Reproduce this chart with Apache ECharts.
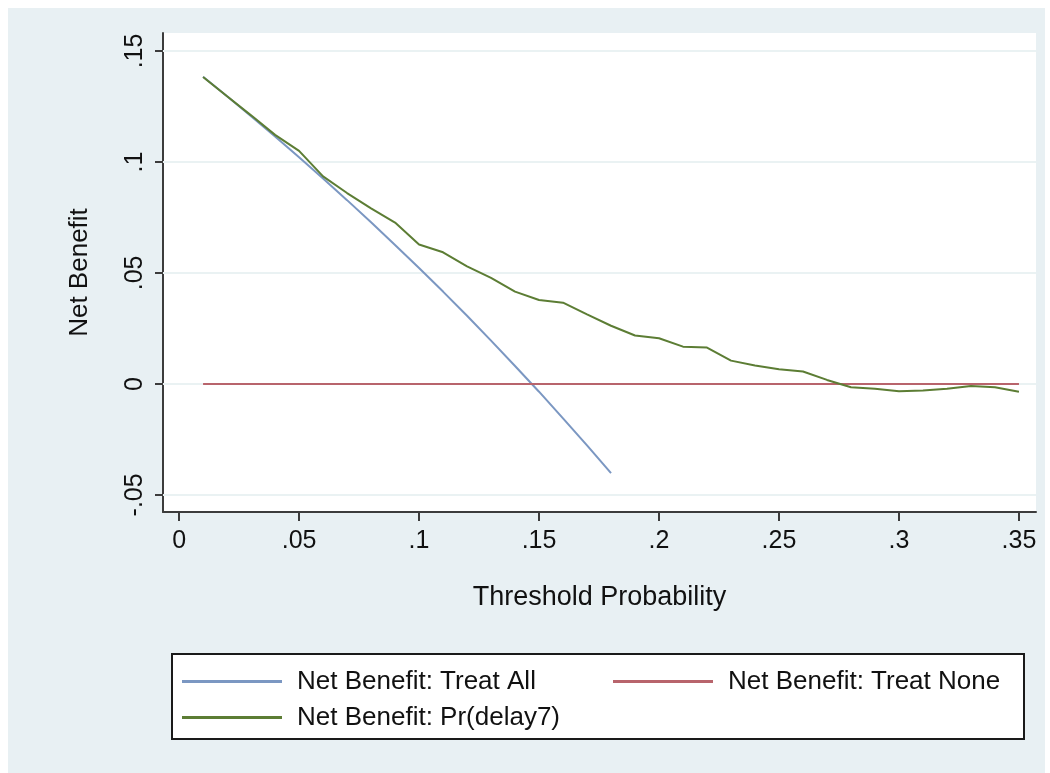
<!DOCTYPE html>
<html>
<head>
<meta charset="utf-8">
<title>Decision curve: Net Benefit</title>
<script src="https://cdn.jsdelivr.net/npm/echarts@6/dist/echarts.min.js"></script>
<style>
  html, body { margin: 0; padding: 0; background: #ffffff; }
  #chart { width: 1050px; height: 773px; }
</style>
</head>
<body>
<div id="chart"></div>
<script>
// Threshold probabilities (x) for each curve
const thresholdsAll = [0.01, 0.02, 0.03, 0.04, 0.05, 0.06, 0.07, 0.08, 0.09, 0.10,
  0.11, 0.12, 0.13, 0.14, 0.15, 0.16, 0.17, 0.18];
const thresholdsModel = [0.01, 0.02, 0.03, 0.04, 0.05, 0.06, 0.07, 0.08, 0.09, 0.10,
  0.11, 0.12, 0.13, 0.14, 0.15, 0.16, 0.17, 0.18, 0.19, 0.20,
  0.21, 0.22, 0.23, 0.24, 0.25, 0.26, 0.27, 0.28, 0.29, 0.30,
  0.31, 0.32, 0.33, 0.34, 0.35];

// Net benefit values
const netTreatAll = [0.1384, 0.1296, 0.1206, 0.1115, 0.1021, 0.0926, 0.0828, 0.0728, 0.0626, 0.0522,
  0.0416, 0.0307, 0.0195, 0.0081, -0.0035, -0.0155, -0.0277, -0.0402];
const netTreatNone = [0, 0, 0, 0, 0, 0, 0, 0, 0, 0,
  0, 0, 0, 0, 0, 0, 0, 0, 0, 0,
  0, 0, 0, 0, 0, 0, 0, 0, 0, 0,
  0, 0, 0, 0, 0];
const netDelay7 = [0.1383, 0.1296, 0.1210, 0.1122, 0.1050, 0.0935, 0.0860, 0.0791, 0.0727, 0.0628,
  0.0593, 0.0530, 0.0478, 0.0416, 0.0378, 0.0366, 0.0313, 0.0262, 0.0218, 0.0206,
  0.0168, 0.0164, 0.0105, 0.0083, 0.0066, 0.0056, 0.0018, -0.0015, -0.0022, -0.0033,
  -0.0030, -0.0022, -0.0009, -0.0015, -0.0035];

// Axis ticks and their printed labels
const xTickValues = [0, 0.05, 0.10, 0.15, 0.20, 0.25, 0.30, 0.35];
const xTickLabels = ['0', '.05', '.1', '.15', '.2', '.25', '.3', '.35'];
const yTickValues = [-0.05, 0, 0.05, 0.10, 0.15];
const yTickLabels = ['-.05', '0', '.05', '.1', '.15'];

const seriesNames = ['Net Benefit: Treat All', 'Net Benefit: Treat None', 'Net Benefit: Pr(delay7)'];
const seriesColors = ['#7b97c2', '#b8646c', '#5c7d34'];

function pair(xs, ys) { return xs.map((x, i) => [x, ys[i]]); }
function tickLabel(values, labels) {
  return v => {
    const i = values.findIndex(t => Math.abs(t - v) < 1e-9);
    return i >= 0 ? labels[i] : '';
  };
}

const FONT = '"Liberation Sans", Arial, Helvetica, sans-serif';
const AXIS_COLOR = '#3c3c3c';
const TEXT_COLOR = '#111111';

const chart = echarts.init(document.getElementById('chart'), null, { renderer: 'canvas' });

chart.setOption({
  animation: false,
  backgroundColor: '#ffffff',
  textStyle: { fontFamily: FONT },
  graphic: [
    // outer graph region
    { type: 'rect', z: -10, silent: true,
      shape: { x: 8, y: 8, width: 1037, height: 765 },
      style: { fill: '#e8f0f3' } },
    // legend frame
    { type: 'rect', z: 1, silent: true,
      shape: { x: 172, y: 654, width: 852, height: 85 },
      style: { fill: '#ffffff', stroke: '#1a1a1a', lineWidth: 2 } }
  ],
  grid: {
    left: 163, top: 33, right: 14, bottom: 261,
    show: true, backgroundColor: '#ffffff', borderWidth: 0
  },
  xAxis: {
    type: 'value',
    min: -0.0067, max: 0.3571,
    name: 'Threshold Probability',
    nameLocation: 'middle',
    nameGap: 72,
    nameTextStyle: { fontSize: 27, color: TEXT_COLOR, fontFamily: FONT },
    axisLine: { show: true, onZero: false, lineStyle: { color: AXIS_COLOR, width: 2 } },
    axisTick: { show: true, length: 9, customValues: xTickValues, lineStyle: { color: AXIS_COLOR, width: 2 } },
    axisLabel: { customValues: xTickValues, formatter: tickLabel(xTickValues, xTickLabels),
      fontSize: 25, color: TEXT_COLOR, margin: 17, fontFamily: FONT },
    splitLine: { show: false }
  },
  yAxis: {
    type: 'value',
    min: -0.0577, max: 0.1581,
    name: 'Net Benefit',
    nameLocation: 'middle',
    nameRotate: 90,
    nameGap: 70,
    nameTextStyle: { fontSize: 26, color: TEXT_COLOR, fontFamily: FONT },
    axisLine: { show: true, onZero: false, lineStyle: { color: AXIS_COLOR, width: 2 } },
    axisTick: { show: true, length: 8, customValues: yTickValues, lineStyle: { color: AXIS_COLOR, width: 2 } },
    axisLabel: { customValues: yTickValues, formatter: tickLabel(yTickValues, yTickLabels),
      rotate: 90, fontSize: 25, color: TEXT_COLOR, margin: 15, fontFamily: FONT },
    splitLine: { show: false }
  },
  legend: {
    data: seriesNames,
    orient: 'horizontal',
    left: 172, top: 654, width: 870,
    padding: [12, 0, 0, 10],
    itemGap: 5,
    icon: 'rect',
    itemWidth: 100, itemHeight: 3,
    z: 5,
    textStyle: { fontSize: 26, color: TEXT_COLOR, fontFamily: FONT,
      width: 311, lineHeight: 31, padding: [0, 0, 0, 10] },
    selectedMode: false
  },
  series: [
    { // horizontal grid lines at the y ticks
      type: 'line', data: [], silent: true, z: 1,
      markLine: {
        silent: true, symbol: 'none', z: 1, label: { show: false },
        lineStyle: { color: '#eaf2f3', width: 2, type: 'solid' },
        data: yTickValues.map(v => ({ yAxis: v }))
      }
    },
    {
      name: seriesNames[0], type: 'line', data: pair(thresholdsAll, netTreatAll),
      symbol: 'none', z: 3, lineStyle: { color: seriesColors[0], width: 2 }, itemStyle: { color: seriesColors[0] }
    },
    {
      name: seriesNames[1], type: 'line', data: pair(thresholdsModel, netTreatNone),
      symbol: 'none', z: 3, lineStyle: { color: seriesColors[1], width: 2 }, itemStyle: { color: seriesColors[1] }
    },
    {
      name: seriesNames[2], type: 'line', data: pair(thresholdsModel, netDelay7),
      symbol: 'none', z: 4, lineStyle: { color: seriesColors[2], width: 2 }, itemStyle: { color: seriesColors[2] }
    }
  ]
});
</script>
</body>
</html>
